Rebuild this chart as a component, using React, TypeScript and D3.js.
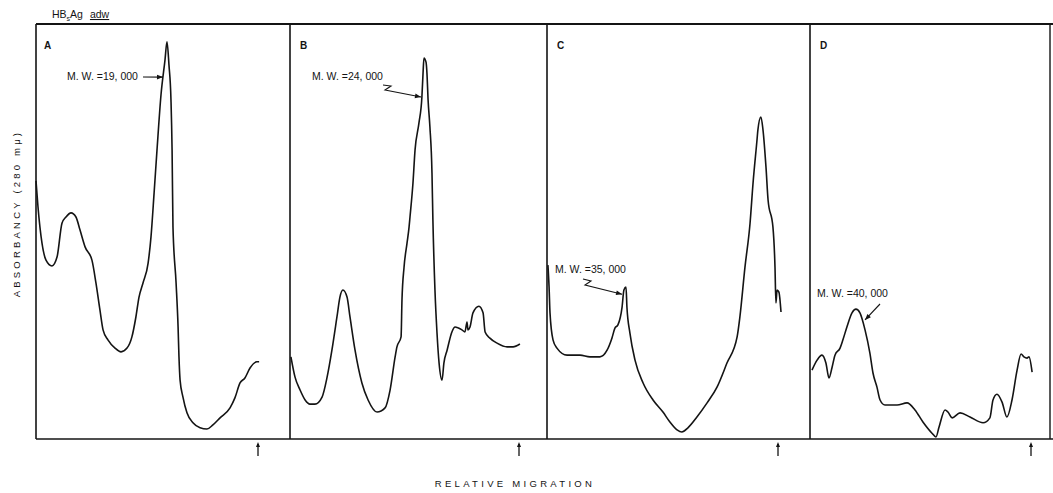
import React from 'react';
import * as d3 from 'd3';

// relative migration (1 = dye front arrow) and absorbance (arbitrary units)
const migA = [0, 0.009, 0.027, 0.045, 0.072, 0.095, 0.117, 0.135, 0.158, 0.18, 0.198, 0.221, 0.252, 0.27, 0.288, 0.302, 0.324, 0.356, 0.383, 0.41, 0.432, 0.45, 0.464, 0.482, 0.505, 0.518, 0.532, 0.545, 0.563, 0.581, 0.59, 0.599, 0.608, 0.613, 0.617, 0.631, 0.64, 0.644, 0.649, 0.662, 0.68, 0.707, 0.739, 0.77, 0.797, 0.829, 0.874, 0.896, 0.919, 0.941, 0.964, 0.995, 1.005];
const absA = [62.2, 55.9, 47.2, 43.1, 41.7, 43.9, 52.0, 53.5, 54.5, 53.5, 50.4, 46.3, 43.1, 37.6, 31.1, 26.3, 23.9, 21.9, 21.0, 21.9, 24.6, 29.4, 34.2, 37.6, 42.4, 48.7, 59.3, 69.6, 82.9, 91.3, 95.7, 90.1, 81.7, 69.6, 51.1, 37.6, 27.0, 19.8, 14.2, 10.1, 6.3, 3.9, 2.7, 2.4, 3.4, 5.1, 7.5, 9.9, 13.5, 14.7, 17.1, 18.6, 18.6];

const migB = [0.004, 0.022, 0.044, 0.066, 0.087, 0.109, 0.14, 0.162, 0.183, 0.205, 0.218, 0.231, 0.249, 0.262, 0.284, 0.314, 0.341, 0.38, 0.415, 0.437, 0.459, 0.467, 0.485, 0.489, 0.498, 0.511, 0.52, 0.524, 0.537, 0.546, 0.563, 0.576, 0.581, 0.585, 0.594, 0.598, 0.603, 0.611, 0.62, 0.624, 0.633, 0.642, 0.651, 0.664, 0.672, 0.686, 0.707, 0.721, 0.751, 0.764, 0.773, 0.777, 0.786, 0.799, 0.825, 0.843, 0.852, 0.873, 0.904, 0.948, 0.974, 1.004];
const absB = [19.8, 14.9, 11.8, 9.4, 8.4, 8.4, 10.1, 14.9, 21.4, 29.4, 34.2, 35.9, 34.2, 29.4, 21.4, 13.5, 9.4, 6.5, 7.5, 11.8, 19.8, 22.2, 24.6, 33.5, 41.4, 47.2, 51.1, 53.5, 61.7, 69.6, 76.1, 82.4, 88.2, 91.8, 90.8, 88.2, 81.7, 75.2, 64.1, 52.8, 35.9, 25.5, 18.3, 14.2, 18.3, 21.4, 25.8, 27.0, 26.3, 25.8, 28.2, 26.3, 27.0, 30.4, 32.0, 30.4, 25.8, 24.3, 23.1, 22.2, 22.2, 22.9];

const migC = [0.004, 0.009, 0.013, 0.026, 0.043, 0.087, 0.143, 0.186, 0.229, 0.26, 0.281, 0.294, 0.307, 0.325, 0.333, 0.342, 0.346, 0.359, 0.381, 0.416, 0.459, 0.502, 0.532, 0.563, 0.584, 0.61, 0.649, 0.693, 0.736, 0.779, 0.823, 0.835, 0.857, 0.879, 0.892, 0.909, 0.913, 0.926, 0.935, 0.948, 0.957, 0.978, 0.987, 0.991, 0.996, 1.004, 1.013];
const absC = [41.9, 36.6, 30.4, 23.9, 21.9, 20.2, 20.2, 19.8, 19.8, 21.4, 24.3, 26.7, 27.5, 31.8, 35.9, 36.6, 31.8, 25.5, 19.0, 13.5, 9.4, 6.5, 4.1, 2.2, 1.7, 2.7, 5.3, 8.7, 12.5, 18.3, 24.6, 29.4, 41.4, 52.0, 61.7, 72.0, 74.5, 77.6, 74.5, 65.5, 57.6, 51.1, 41.4, 32.8, 35.9, 35.4, 30.6];

const migD = [0.009, 0.032, 0.054, 0.072, 0.086, 0.1, 0.113, 0.136, 0.149, 0.167, 0.19, 0.208, 0.226, 0.249, 0.271, 0.285, 0.303, 0.317, 0.339, 0.394, 0.439, 0.475, 0.511, 0.552, 0.57, 0.584, 0.611, 0.624, 0.643, 0.679, 0.724, 0.783, 0.814, 0.828, 0.846, 0.869, 0.891, 0.914, 0.937, 0.955, 0.968, 0.982, 0.991, 1.005];
const absD = [16.6, 19.0, 20.2, 18.3, 14.7, 17.3, 20.2, 21.9, 23.9, 27.0, 30.4, 31.3, 30.4, 26.3, 20.7, 15.9, 12.5, 9.4, 8.2, 8.2, 8.7, 7.0, 4.1, 1.4, 0.5, 2.9, 7.0, 6.5, 5.1, 6.3, 5.3, 3.9, 5.1, 9.4, 10.8, 8.9, 5.3, 9.4, 16.6, 20.5, 19.8, 19.5, 19.8, 16.1];

const panelNames = ['A', 'B', 'C', 'D'];
const migrations = [migA, migB, migC, migD];
const absorbances = [absA, absB, absC, absD];

// molecular weight labels and the peak (migration, absorbance) they point at
const mwLabels = ['M. W. =19, 000', 'M. W. =24, 000', 'M. W. =35, 000', 'M. W. =40, 000'];
const mwTipMig = [0.572, 0.572, 0.325, 0.249];
const mwTipAbs = [87.2, 82.4, 34.9, 28.7];

const W = 1053;
const H = 493;
const top = 24;
const bottom = 439;
const panelLeft = [36, 290, 547, 810];
const panelFront = [258, 519, 778, 1031];
const frameRight = 1050;
const font = "'Liberation Sans', Arial, sans-serif";
const ink = '#141414';

// where each label text sits and how the leader is drawn (layout only)
const labelPos = [
  { x: 67, y: 80, lead: [[143, 77]] },
  { x: 312, y: 80, lead: [[383, 85], [391, 86], [385, 90]] },
  { x: 555, y: 273, lead: [[583, 279], [591, 281], [585, 285]] },
  { x: 817, y: 297, lead: [[880, 304]] },
];

function arrowHead(x: number, y: number, fromX: number, fromY: number, size = 6) {
  const a = Math.atan2(y - fromY, x - fromX);
  const w = size * 0.4;
  const bx = x - size * Math.cos(a);
  const by = y - size * Math.sin(a);
  const px = -Math.sin(a) * w;
  const py = Math.cos(a) * w;
  return `M${x},${y}L${bx + px},${by + py}L${bx - px},${by - py}Z`;
}

export default function App() {
  const yScale = d3.scaleLinear().domain([0, 100]).range([bottom, top]);

  return (
    <svg width={W} height={H} style={{ position: 'absolute', left: 0, top: 0, background: '#fff' }}>
      {/* title */}
      <text x={52} y={18} fontFamily={font} fontSize={10.5} fill={ink}>
        HB<tspan fontSize={7} dy={3}>s</tspan><tspan dy={-3}>Ag</tspan>
        <tspan dx={7} textDecoration="underline">adw</tspan>
      </text>

      {/* frame */}
      <line x1={panelLeft[0]} x2={W} y1={top} y2={top} stroke={ink} strokeWidth={2} />
      <line x1={panelLeft[0]} x2={W} y1={bottom} y2={bottom} stroke={ink} strokeWidth={1.6} />
      {panelLeft.map((l, i) => (
        <line key={i} x1={l} x2={l} y1={top} y2={bottom} stroke={ink} strokeWidth={1.6} />
      ))}
      <line x1={frameRight} x2={frameRight} y1={top} y2={bottom} stroke={ink} strokeWidth={1.4} />

      {panelNames.map((name, i) => {
        const xScale = d3.scaleLinear().domain([0, 1]).range([panelLeft[i], panelFront[i]]);
        const pts: [number, number][] = migrations[i].map((m, j) => [m, absorbances[i][j]]);
        const line = d3
          .line<[number, number]>()
          .x((d) => xScale(d[0]))
          .y((d) => yScale(d[1]))
          .curve(d3.curveMonotoneX);
        const fx = xScale(1);
        const tipX = xScale(mwTipMig[i]);
        const tipY = yScale(mwTipAbs[i]);
        const lp = labelPos[i];
        const lead = [...lp.lead, [tipX, tipY]];
        const prev = lead[lead.length - 2];
        return (
          <g key={name}>
            <text x={panelLeft[i] + (i === 0 ? 8 : 10)} y={49} fontFamily={font} fontSize={10} fontWeight="bold" fill={ink}>
              {name}
            </text>
            <path d={line(pts) || ''} fill="none" stroke={ink} strokeWidth={1.6} strokeLinejoin="round" />
            <text x={lp.x} y={lp.y} fontFamily={font} fontSize={10.5} fill={ink}>
              {mwLabels[i]}
            </text>
            <polyline points={lead.map((p) => p.join(',')).join(' ')} fill="none" stroke={ink} strokeWidth={1.1} />
            <path d={arrowHead(tipX, tipY, prev[0], prev[1])} fill={ink} />
            {/* dye front arrow */}
            <line x1={fx} x2={fx} y1={456} y2={444} stroke={ink} strokeWidth={1.3} />
            <path d={arrowHead(fx, 442, fx, 456, 5)} fill={ink} />
          </g>
        );
      })}

      {/* axis titles */}
      <text
        transform={`translate(20,${(130 + 297) / 2}) rotate(-90)`}
        textAnchor="middle"
        fontFamily={font}
        fontSize={9.5}
        letterSpacing={3.2}
        fill={ink}
      >
        ABSORBANCY (280 mμ)
      </text>
      <text x={515} y={487} textAnchor="middle" fontFamily={font} fontSize={9.5} letterSpacing={3.3} fill={ink}>
        RELATIVE MIGRATION
      </text>
    </svg>
  );
}
